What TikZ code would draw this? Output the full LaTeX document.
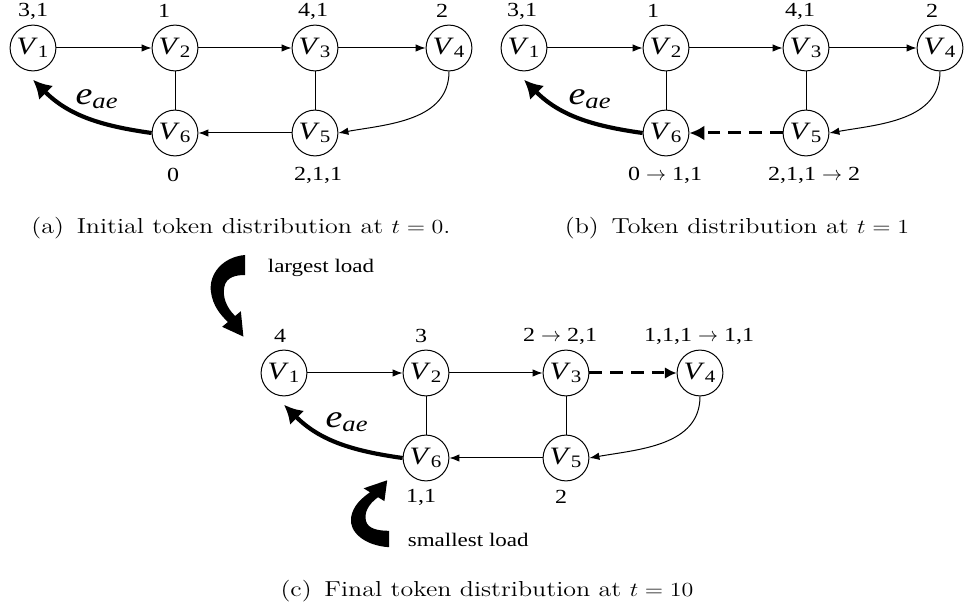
\documentclass[tikz,border=0pt]{standalone}
\usepackage{graphicx}
\usepackage{fontspec}
\newfontfamily\tnr[FakeStretch=1.2]{Liberation Serif}
\usetikzlibrary{arrows.meta}

\tikzset{
  vtx/.style={draw, circle, line width=0.6pt, minimum size=27.5pt, inner sep=0pt,
    font=\tnr\fontsize{15}{15}\selectfont},
  lbl/.style={font=\tnr\fontsize{12}{12}\selectfont},
  flow/.style={line width=0.6pt, -{Latex[length=6pt,width=4.5pt]}},
  link/.style={line width=0.6pt},
  hot/.style={line width=2.5pt, -{Latex[length=11pt,width=12pt]}},
  move/.style={line width=1.8pt, dash pattern=on 7.5pt off 5pt, -{Latex[length=9pt,width=9pt]}},
  capt/.style={font=\fontsize{13}{15}\selectfont},
  loadtext/.style={font=\tnr\fontsize{11.5}{11.5}\selectfont, anchor=west},
}

\newcommand\vn[1]{\textit{V}\textsubscript{#1}}
\newcommand\eae{{\tnr\fontsize{19}{19}\selectfont\textit{e}\textsubscript{\textit{ae}}}}
\newcommand\capline[1]{\scalebox{1.2}[1]{#1}}
% block arrow, cut end at the origin
\newcommand\loadarrow{(0,-10) .. controls (-25,-8) and (-40,9) .. (-38,26)
  .. controls (-36,41) and (-27,50) .. (-19,57) -- (-25.4,61.8) -- (-1.8,71.6)
  -- (-4.6,46.2) -- (-11,51) .. controls (-21,42) and (-25,32) .. (-23,22)
  .. controls (-21,12) and (-10,10) .. (0,10) -- cycle}

\begin{document}
\begin{tikzpicture}[x=0.6pt, y=-0.6pt]
  \useasboundingbox (0,0) rectangle (966,611);

  % (a)
  \node[vtx] (a1) at (33,48) {\vn1};
  \node[vtx] (a2) at (175,48) {\vn2};
  \node[vtx] (a3) at (315,48) {\vn3};
  \node[vtx] (a4) at (449,48) {\vn4};
  \node[vtx] (a5) at (315,133) {\vn5};
  \node[vtx] (a6) at (175,133) {\vn6};
  \node[lbl] (ta1) at (33,11) {3,1};
  \node[lbl] (ta2) at (164,11) {1};
  \node[lbl] (ta3) at (313,11) {4,1};
  \node[lbl] (ta4) at (442,11) {2};
  \node[lbl] (ta6) at (173,175) {0};
  \node[lbl] (ta5) at (318,175) {2,1,1};
  \draw[flow] (a1) -- (a2);
  \draw[flow] (a2) -- (a3);
  \draw[flow] (a3) -- (a4);
  \draw[flow] (a5) -- (a6);
  \draw[link] (a2) -- (a6);
  \draw[link] (a3) -- (a5);
  \draw[flow] (a4.south) to[out=-90,in=10] (a5.east);
  \draw[hot] (a6.west) to[out=172,in=-45] ([yshift=-5pt]a1.south);
  \node (ea) at (97,99) {\eae};
  \node[capt] (capa) at (241,228) {\capline{(a)\, Initial token distribution at $t=0$.}};

  % (b)
  \begin{scope}[shift={(491,0)}]
    \node[vtx] (b1) at (33,48) {\vn1};
    \node[vtx] (b2) at (175,48) {\vn2};
    \node[vtx] (b3) at (315,48) {\vn3};
    \node[vtx] (b4) at (449,48) {\vn4};
    \node[vtx] (b5) at (315,133) {\vn5};
    \node[vtx] (b6) at (175,133) {\vn6};
    \node[lbl] (tb1) at (31,11) {3,1};
    \node[lbl] (tb2) at (162,11) {1};
    \node[lbl] (tb3) at (309,11) {4,1};
    \node[lbl] (tb4) at (441,11) {2};
    \node[lbl] (tb6) at (174,175) {0 $\rightarrow$ 1,1};
    \node[lbl] (tb5) at (323,175) {2,1,1 $\rightarrow$ 2};
    \draw[flow] (b1) -- (b2);
    \draw[flow] (b2) -- (b3);
    \draw[flow] (b3) -- (b4);
    \draw[move] (b5) -- (b6);
    \draw[link] (b2) -- (b6);
    \draw[link] (b3) -- (b5);
    \draw[flow] (b4.south) to[out=-90,in=10] (b5.east);
    \draw[hot] (b6.west) to[out=172,in=-45] ([yshift=-5pt]b1.south);
    \node (eb) at (99,99) {\eae};
    \node[capt] (capb) at (246,228) {\capline{(b)\, Token distribution at $t=1$}};
  \end{scope}

  % (c)
  \begin{scope}[shift={(251,325)}]
    \node[vtx] (c1) at (33,48) {\vn1};
    \node[vtx] (c2) at (175,48) {\vn2};
    \node[vtx] (c3) at (315,48) {\vn3};
    \node[vtx] (c4) at (449,48) {\vn4};
    \node[vtx] (c5) at (315,133) {\vn5};
    \node[vtx] (c6) at (175,133) {\vn6};
    \node[lbl] (tc1) at (29,11) {4};
    \node[lbl] (tc2) at (170,11) {3};
    \node[lbl] (tc3) at (309,11) {2 $\rightarrow$ 2,1};
    \node[lbl] (tc4) at (448,11) {1,1,1 $\rightarrow$ 1,1};
    \node[lbl] (tc6) at (170,172) {1,1};
    \node[lbl] (tc5) at (310,172) {2};
    \draw[flow] (c1) -- (c2);
    \draw[flow] (c2) -- (c3);
    \draw[move, -{Latex[length=7pt,width=7pt]}] (c3) -- (c4);
    \draw[flow] (c5) -- (c6);
    \draw[link] (c2) -- (c6);
    \draw[link] (c3) -- (c5);
    \draw[flow] (c4.south) to[out=-90,in=10] (c5.east);
    \draw[hot] (c6.west) to[out=172,in=-45] ([yshift=-5pt]c1.south);
    \node (ec) at (96,97) {\eae};
  \end{scope}
  \node[capt] (capc) at (487,591) {\capline{(c)\, Final token distribution at $t=10$}};

  % load markers
  \fill[shift={(245,265)}, xscale=0.9] \loadarrow;
  \node[loadtext] (big) at (262,268) {largest load};
  \fill[shift={(389,539)}, yscale=-0.82] \loadarrow;
  \node[loadtext] (small) at (402,540) {smallest load};
\end{tikzpicture}
\end{document}
